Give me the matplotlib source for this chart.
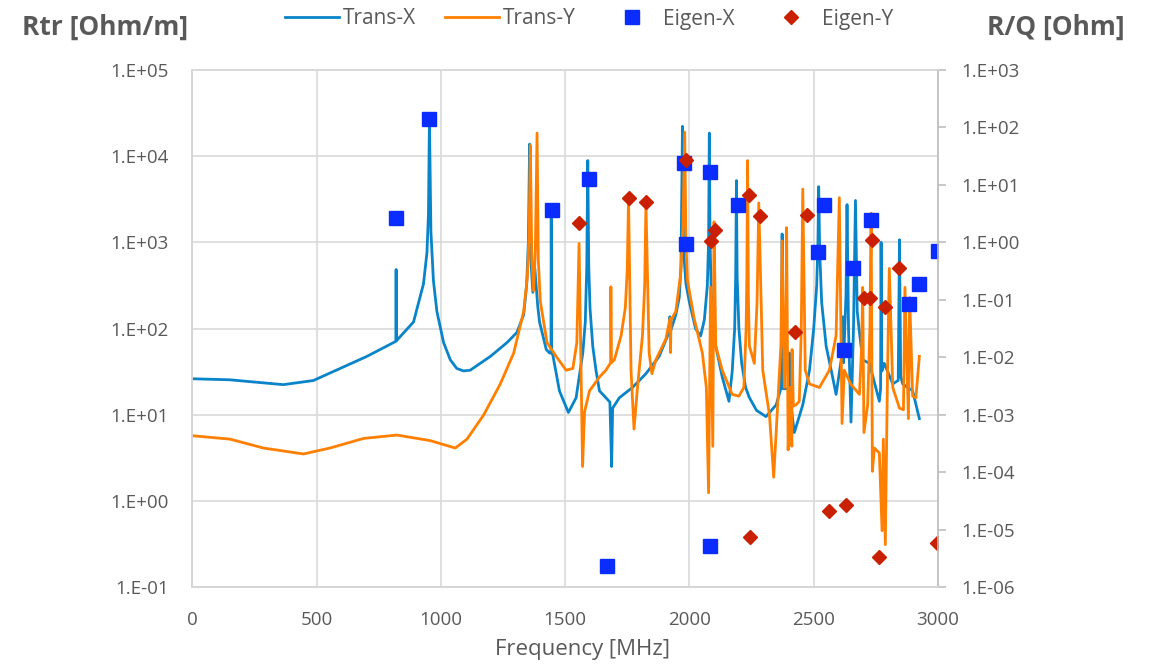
import math

import matplotlib
matplotlib.use("Agg")
import matplotlib.pyplot as plt
from matplotlib.ticker import FixedLocator, FuncFormatter, NullLocator

plt.rcParams["font.family"] = ["Open Sans", "DejaVu Sans"]

# transverse impedance (MHz, Ohm/m)
trans_x_freq = [0, 150, 366, 487, 595, 702, 809, 819, 820, 821, 890, 930, 944, 950, 954,
                960, 970, 984, 1011, 1038, 1064, 1091, 1118, 1199, 1266, 1306, 1333, 1345,
                1352, 1357, 1362, 1370, 1378, 1390, 1397, 1424, 1437, 1443, 1444, 1446,
                1450, 1477, 1513, 1544, 1571, 1581, 1587, 1591, 1595, 1600, 1611, 1624,
                1638, 1667, 1680, 1687, 1691, 1718, 1771, 1825, 1878, 1918, 1921, 1923,
                1945, 1959, 1966, 1972, 1977, 1986, 1999, 2025, 2045, 2060, 2072, 2077,
                2080, 2083, 2088, 2096, 2106, 2132, 2159, 2172, 2182, 2186, 2189, 2192,
                2199, 2210, 2226, 2241, 2270, 2308, 2349, 2369, 2373, 2377, 2400, 2402,
                2404, 2422, 2456, 2483, 2500, 2512, 2517, 2520, 2524, 2532, 2550, 2576,
                2590, 2614, 2617, 2620, 2630, 2634, 2640, 2650, 2660, 2668, 2675, 2684,
                2697, 2724, 2764, 2769, 2771, 2774, 2784, 2818, 2840, 2845, 2850, 2858,
                2898, 2925]
trans_x_rtr = [26.1, 25.4, 22.3, 24.9, 34.4, 47.4, 68.6, 71, 484, 72, 119, 329, 760, 2100, 26900,
               1320, 360, 158, 68.6, 43.3, 34.4, 32.2, 32.8, 47.4, 68.6, 90, 144, 316,
               1000, 13800, 630, 263, 500, 178, 119, 57, 52, 52, 1900, 52,
               50, 18.9, 10.6, 15.7, 52, 119, 521, 8900, 521, 173, 62.5, 32.8,
               18.9, 15.4, 14, 2.5, 11.9, 15.7, 20.7, 29.9, 47.4, 90, 137, 91,
               144, 228, 521, 22200, 753, 329, 207, 99, 82, 126, 316, 1000,
               18500, 1000, 251, 100, 62.5, 27.3, 14.3, 31.6, 100, 398, 5200, 398,
               100, 39.8, 20.7, 15.8, 11.2, 9.5, 13, 20.7, 1250, 20, 20, 52,
               16, 6.2, 13, 32.8, 100, 316, 1000, 4430, 794, 200, 62.5, 27.3,
               17.2, 50, 137, 40, 251, 2740, 100, 8.2, 100, 3060, 158, 90,
               43.3, 39.4, 14.3, 20, 1000, 32, 39.4, 22.7, 25, 1070, 28, 22.7,
               18.9, 9.0]

trans_y_freq = [0, 152, 286, 447, 554, 689, 823, 957, 1058, 1105, 1172, 1239, 1293, 1333,
                1348, 1355, 1360, 1366, 1373, 1380, 1387, 1392, 1400, 1427, 1464, 1504,
                1531, 1547, 1556, 1570, 1578, 1598, 1638, 1664, 1683, 1684, 1686, 1698,
                1725, 1742, 1750, 1755, 1765, 1777, 1791, 1811, 1820, 1825, 1838, 1849,
                1865, 1905, 1922, 1924, 1926, 1945, 1965, 1974, 1981, 1986, 1992, 2019,
                2052, 2068, 2077, 2085, 2094, 2099, 2106, 2132, 2172, 2199, 2219, 2228,
                2231, 2234, 2237, 2241, 2261, 2272, 2279, 2295, 2322, 2339, 2355, 2368,
                2373, 2382, 2388, 2391, 2397, 2405, 2412, 2413, 2418, 2429, 2442, 2450,
                2456, 2466, 2483, 2523, 2563, 2590, 2603, 2614, 2623, 2650, 2684, 2693,
                2697, 2702, 2717, 2726, 2731, 2736, 2744, 2764, 2775, 2780, 2788, 2797,
                2804, 2818, 2845, 2861, 2867, 2881, 2886, 2898, 2911, 2925]
trans_y_rtr = [5.7, 5.2, 4.1, 3.5, 4.1, 5.3, 5.8, 5.0, 4.1, 5.2, 9.9, 22.7, 52, 157,
               398, 1260, 13400, 631, 274, 794, 18500, 631, 207, 68.6, 47.4, 32.8,
               34.4, 68.6, 970, 2.5, 10.8, 18.9, 27.3, 32.8, 40, 305, 40, 43.3,
               82.4, 173, 500, 3300, 32.8, 6.8, 20.7, 82.4, 316, 2870, 52, 29.9,
               43.3, 75.2, 132, 52.5, 126, 157, 434, 1580, 19000, 1000, 361, 131,
               52, 20.7, 1.24, 302, 4.3, 1730, 62.5, 32.8, 17.2, 16.4, 20.7, 100,
               398, 8900, 251, 63, 39.4, 200, 2870, 32.8, 9.9, 1.88, 13, 63,
               1040, 20.7, 100, 1480, 3.9, 20.7, 4.3, 57, 12.6, 13, 14.3, 100,
               4150, 32.8, 22.7, 20.7, 32.8, 82.4, 3300, 7.9, 32.8, 22.4, 17.2, 63,
               300, 6.2, 13, 100, 2180, 2.2, 4.1, 3.6, 0.45, 5.2, 0.31, 31.6,
               498, 20.7, 11.9, 11.4, 300, 9.0, 228, 16.4, 15.7, 47.4]

# eigenmode R/Q (MHz, Ohm)
eigen_x_freq = [820, 954, 1447, 1595, 1667, 1979, 1986, 2083, 2083, 2195,
                2516, 2543, 2623, 2660, 2732, 2885, 2922, 2999]
eigen_x_rq = [2.6, 138, 3.6, 12.8, 2.3e-6, 24.5, 0.95, 5.2e-6, 16.9, 4.4,
              0.68, 4.4, 0.0136, 0.36, 2.4, 0.085, 0.188, 0.72]

eigen_y_freq = [1557, 1758, 1826, 1985, 2087, 2103, 2239, 2245, 2285, 2425,
                2473, 2563, 2631, 2701, 2728, 2736, 2761, 2786, 2845, 2995]
eigen_y_rq = [2.2, 6.0, 5.0, 27, 1.07, 1.67, 6.6, 7.5e-6, 2.9, 0.027,
              3.0, 2.1e-5, 2.7e-5, 0.108, 0.108, 1.1, 3.3e-6, 0.074, 0.36, 5.8e-6]

GRID = "#d9d9d9"
AXIS = "#bfbfbf"
TXT = "#595959"
W, H = 1156, 664


def sci_label(v, pos):
    # Excel style "1.E+05"
    exp = int(round(math.log10(v)))
    return f"1.E{exp:+03d}"


fig = plt.figure(figsize=(W / 100, H / 100), dpi=100)
ax = fig.add_axes([192.3 / W, 1 - 587 / H, (938 - 192.3) / W, (587 - 70) / H])
ax2 = ax.twinx()

# Excel draws the second series over the first
l1, = ax.plot(trans_x_freq, trans_x_rtr, color="#0a84c8", lw=2.0, label="Trans-X", zorder=2)
l2, = ax.plot(trans_y_freq, trans_y_rtr, color="#ff7f00", lw=2.0, label="Trans-Y", zorder=3)
m1, = ax2.plot(eigen_x_freq, eigen_x_rq, ls="none", marker="s", ms=9.5, color="#0a2cff",
               label="Eigen-X")
m2, = ax2.plot(eigen_y_freq, eigen_y_rq, ls="none", marker="D", ms=7.5, color="#c82000",
               label="Eigen-Y")

ax.set_yscale("log")
ax.set_ylim(0.1, 1e5)
ax.set_xlim(0, 3000)
ax2.set_yscale("log")
ax2.set_ylim(1e-6, 1e3)

ax.xaxis.set_major_locator(FixedLocator([0, 500, 1000, 1500, 2000, 2500, 3000]))
ax.yaxis.set_major_locator(FixedLocator([10.0 ** k for k in range(-1, 6)]))
ax.yaxis.set_minor_locator(NullLocator())
ax.yaxis.set_major_formatter(FuncFormatter(sci_label))
ax2.yaxis.set_major_locator(FixedLocator([10.0 ** k for k in range(-6, 4)]))
ax2.yaxis.set_minor_locator(NullLocator())
ax2.yaxis.set_major_formatter(FuncFormatter(sci_label))

ax.grid(True, color=GRID, lw=1.2)
ax.set_axisbelow(True)
for a in (ax, ax2):
    for s in a.spines.values():
        s.set_color(GRID)
        s.set_linewidth(1.2)
ax.spines["left"].set_color(AXIS)
ax.spines["bottom"].set_color(AXIS)
ax2.spines["right"].set_color(AXIS)

ax.tick_params(axis="both", length=0, labelsize=13.5, labelcolor=TXT)
ax.tick_params(axis="y", pad=17)
ax.tick_params(axis="x", pad=17)
ax2.tick_params(axis="y", length=5.5, width=1.2, color=AXIS, pad=11, labelsize=13.5,
                labelcolor=TXT)

fig.text(582 / W, 1 - 650 / H, "Frequency [MHz]", ha="center", va="center",
         fontsize=16, color=TXT)
fig.text(22 / W, 1 - 27 / H, "Rtr [Ohm/m]", ha="left", va="center",
         fontsize=19, fontweight="bold", color=TXT)
fig.text(1125 / W, 1 - 27 / H, "R/Q [Ohm]", ha="right", va="center",
         fontsize=19, fontweight="bold", color=TXT)

# one legend per entry so the gaps follow the reference
for handle, x0 in zip([l1, l2, m1, m2], [285, 445, 605, 764]):
    fig.legend(handles=[handle], loc="center left", bbox_to_anchor=(x0 / W, 1 - 19 / H),
               frameon=False, fontsize=15, handlelength=2.6, handletextpad=0.2,
               borderpad=0, borderaxespad=0, labelcolor=TXT)

fig.savefig("out.png", dpi=100)
